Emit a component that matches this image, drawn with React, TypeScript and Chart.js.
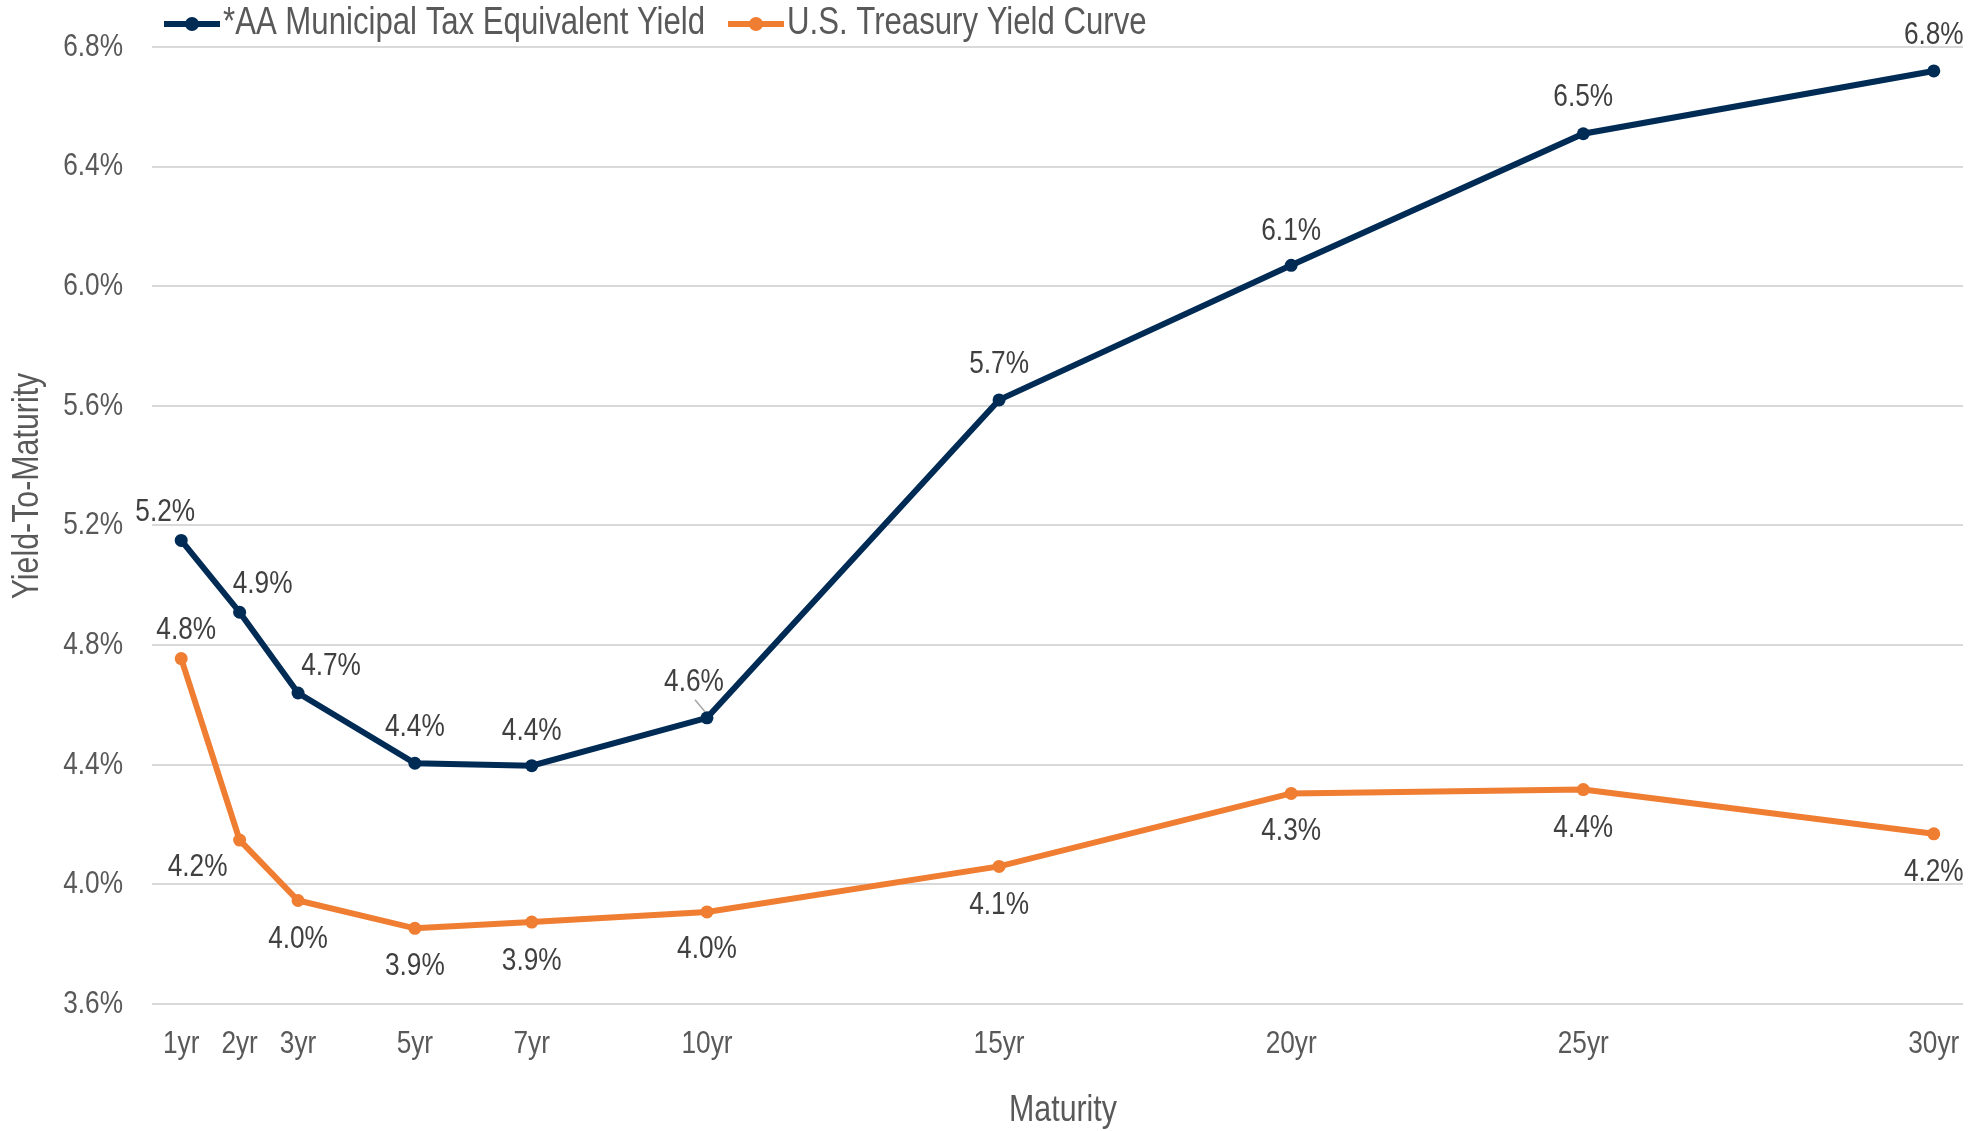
import React, { useEffect, useRef } from "react";
import { Chart, registerables } from "chart.js";

Chart.register(...registerables);

const maturityLabels = ["1yr", "2yr", "3yr", "5yr", "7yr", "10yr", "15yr", "20yr", "25yr", "30yr"];
// horizontal slot of each maturity on the chart's value axis
const maturityPositions = [1, 2, 3, 5, 7, 10, 15, 20, 25, 31];

const muniName = "*AA Municipal Tax Equivalent Yield";
const muniValues = [5.15, 4.91, 4.64, 4.405, 4.397, 4.557, 5.62, 6.07, 6.51, 6.72];
const muniLabels = ["5.2%", "4.9%", "4.7%", "4.4%", "4.4%", "4.6%", "5.7%", "6.1%", "6.5%", "6.8%"];

const tsyName = "U.S. Treasury Yield Curve";
const tsyValues = [4.755, 4.148, 3.946, 3.853, 3.874, 3.908, 4.06, 4.304, 4.317, 4.169];
const tsyLabels = ["4.8%", "4.2%", "4.0%", "3.9%", "3.9%", "4.0%", "4.1%", "4.3%", "4.4%", "4.2%"];

const yTicks = [3.6, 4.0, 4.4, 4.8, 5.2, 5.6, 6.0, 6.4, 6.8];

// label placement offsets (px) relative to each point
const muniLabelOffsets = [
  [-16, -28], [23, -28], [33, -27], [0, -36], [0, -34], [-13, -36], [0, -36], [0, -34], [0, -37], [0, -36],
];
const tsyLabelOffsets = [
  [5, -28], [-42, 27], [0, 39], [0, 38], [0, 39], [0, 37], [0, 39], [0, 38], [0, 39], [0, 38],
];

const NAVY = "#002b55";
const ORANGE = "#ef7d32";
const FONT = "'Liberation Sans', Arial, sans-serif";
const TEXT = "#404040";
const TICK = "#595959";
const NARROW = 0.82;

const W = 1988;
const H = 1131;
const AREA = { left: 152, right: 1963, top: 42, bottom: 1004 };

function narrowText(
  ctx: CanvasRenderingContext2D,
  text: string,
  x: number,
  y: number,
  align: CanvasTextAlign,
  size: number,
  color: string
) {
  ctx.save();
  ctx.font = `${size}px ${FONT}`;
  ctx.fillStyle = color;
  ctx.textAlign = align;
  ctx.textBaseline = "middle";
  ctx.translate(x, y);
  ctx.scale(NARROW, 1);
  ctx.fillText(text, 0, 0);
  ctx.restore();
}

export default function App() {
  const ref = useRef<HTMLCanvasElement | null>(null);

  useEffect(() => {
    if (!ref.current) return;

    const overlay = {
      id: "overlay",
      afterDatasetsDraw(chart: any) {
        const ctx = chart.ctx;
        ctx.save();

        // tick labels from the chart's own scales
        const xs = chart.scales.x;
        xs.ticks.forEach((t: any) => {
          const i = maturityPositions.indexOf(Number(t.value));
          if (i < 0) return;
          narrowText(ctx, maturityLabels[i], xs.getPixelForValue(t.value), 1044, "center", 32, TICK);
        });
        const ys = chart.scales.y;
        ys.ticks.forEach((t: any) => {
          narrowText(ctx, Number(t.value).toFixed(1) + "%", 123, ys.getPixelForValue(t.value), "right", 32, TICK);
        });

        // data labels
        const sets = [
          { labels: muniLabels, offs: muniLabelOffsets },
          { labels: tsyLabels, offs: tsyLabelOffsets },
        ];
        sets.forEach((s, i) => {
          const meta = chart.getDatasetMeta(i);
          meta.data.forEach((pt: any, j: number) => {
            const [dx, dy] = s.offs[j];
            narrowText(ctx, s.labels[j], pt.x + dx, pt.y + dy, "center", 32, TEXT);
          });
        });
        // leader line for the 10yr municipal label
        const p10 = chart.getDatasetMeta(0).data[5];
        ctx.strokeStyle = "#a6a6a6";
        ctx.lineWidth = 1.5;
        ctx.beginPath();
        ctx.moveTo(p10.x - 12, p10.y - 18);
        ctx.lineTo(p10.x - 2, p10.y - 6);
        ctx.stroke();

        // legend
        const legend = [
          { name: muniName, color: NAVY, x: 164 },
          { name: tsyName, color: ORANGE, x: 728 },
        ];
        const ly = 24;
        legend.forEach((l) => {
          ctx.strokeStyle = l.color;
          ctx.lineWidth = 6;
          ctx.beginPath();
          ctx.moveTo(l.x, ly);
          ctx.lineTo(l.x + 56, ly);
          ctx.stroke();
          ctx.fillStyle = l.color;
          ctx.beginPath();
          ctx.arc(l.x + 28, ly, 7, 0, Math.PI * 2);
          ctx.fill();
          narrowText(ctx, l.name, l.x + 59, ly, "left", 38, TICK);
        });

        // axis titles
        narrowText(ctx, "Maturity", 1063, 1111, "center", 37, TICK);
        ctx.save();
        ctx.translate(28, 486);
        ctx.rotate(-Math.PI / 2);
        narrowText(ctx, "Yield-To-Maturity", 0, 0, "center", 37, TICK);
        ctx.restore();
        ctx.restore();
      },
    };

    const toPoints = (vals: number[]) => vals.map((v, i) => ({ x: maturityPositions[i], y: v }));

    const chart = new Chart(ref.current, {
      type: "line",
      data: {
        datasets: [
          {
            label: muniName,
            data: toPoints(muniValues),
            borderColor: NAVY,
            backgroundColor: NAVY,
            borderWidth: 6,
            pointRadius: 6.5,
            pointHoverRadius: 6.5,
            pointBorderWidth: 0,
          },
          {
            label: tsyName,
            data: toPoints(tsyValues),
            borderColor: ORANGE,
            backgroundColor: ORANGE,
            borderWidth: 6,
            pointRadius: 6.5,
            pointHoverRadius: 6.5,
            pointBorderWidth: 0,
          },
        ],
      },
      options: {
        animation: false,
        responsive: false,
        maintainAspectRatio: false,
        layout: { padding: { top: AREA.top, right: W - AREA.right, left: 0, bottom: 0 } },
        plugins: { legend: { display: false }, tooltip: { enabled: false } },
        scales: {
          x: {
            type: "linear",
            min: 0.5,
            max: 31.5,
            grid: { display: false },
            border: { display: false },
            afterBuildTicks: (s: any) => {
              s.ticks = maturityPositions.map((v) => ({ value: v }));
            },
            afterFit: (s: any) => {
              s.height = H - AREA.bottom;
            },
            ticks: {
              autoSkip: false,
              maxRotation: 0,
              padding: 24,
              color: "rgba(0,0,0,0)",
              font: { family: FONT, size: 30 },
              callback: (v: any) => {
                const i = maturityPositions.indexOf(Number(v));
                return i >= 0 ? maturityLabels[i] : "";
              },
            },
          },
          y: {
            min: 3.6,
            max: 6.8,
            grid: { color: "#d9d9d9", lineWidth: 2, drawTicks: false },
            border: { display: false },
            afterBuildTicks: (s: any) => {
              s.ticks = yTicks.map((v) => ({ value: v }));
            },
            afterFit: (s: any) => {
              s.width = AREA.left;
            },
            ticks: {
              padding: 29,
              color: "rgba(0,0,0,0)",
              font: { family: FONT, size: 30 },
              callback: (v: any) => Number(v).toFixed(1) + "%",
            },
          },
        },
      },
      plugins: [overlay],
    });

    return () => chart.destroy();
  }, []);

  return (
    <div style={{ position: "fixed", left: 0, top: 0, width: W, height: H, background: "#fff" }}>
      <canvas ref={ref} width={W} height={H} style={{ width: W, height: H, display: "block" }} />
    </div>
  );
}
